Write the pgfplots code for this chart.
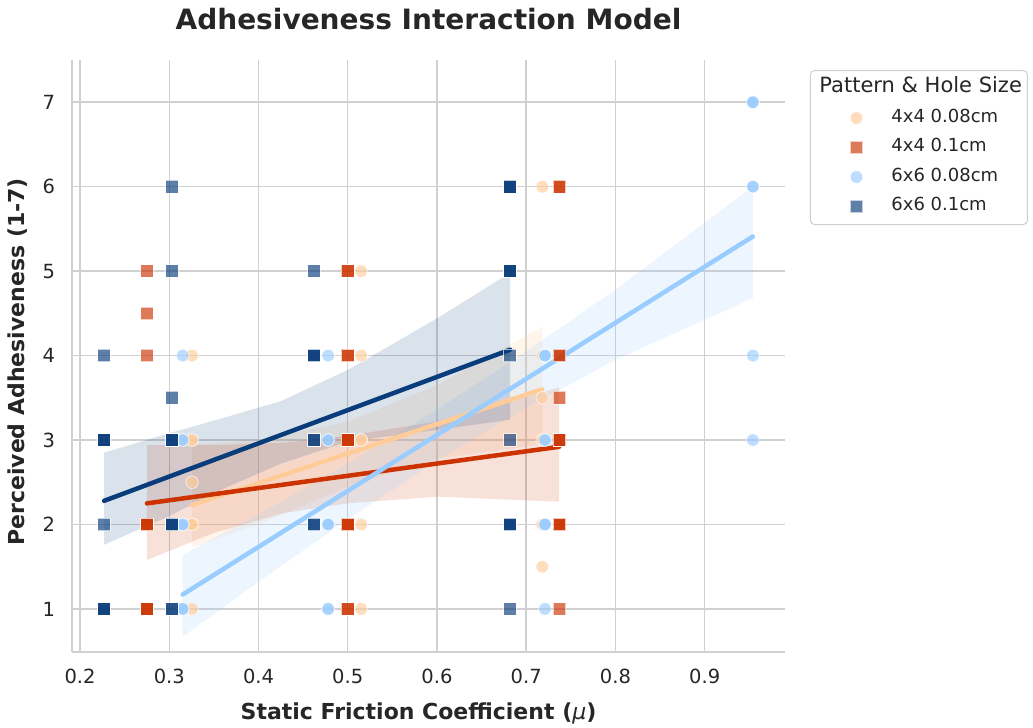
\documentclass[border=0pt]{standalone}
\usepackage{fontspec}
\setmainfont{DejaVu Sans}
\usepackage{pgfplots}
\pgfplotsset{compat=1.18}
\definecolor{cOr}{HTML}{FFCC99}
\definecolor{cRd}{HTML}{CC3300}
\definecolor{cLb}{HTML}{99CCFF}
\definecolor{cDb}{HTML}{083C7A}
\definecolor{gridc}{HTML}{D0D0D0}
\definecolor{txt}{HTML}{262626}
\pgfplotsset{
  mylegimg/.style={legend image code/.code={\path[draw=none,fill=none] (0pt,-6pt) rectangle (34pt,6pt);
     \draw[mark repeat=2,mark phase=2,##1] plot coordinates {(0pt,0pt)(17pt,0pt)(34pt,0pt)};}},
  pts/.style={only marks, mark=#1, mark size=6.3pt},
  ptsopt/.style={mark options={fill=#1, draw=white, line width=0.8pt, fill opacity=0.65, draw opacity=0.65}},
}
\begin{document}
\begin{tikzpicture}[x=1pt,y=1pt]
\path (0,0) rectangle (1033,724);
\begin{axis}[
  at={(72pt,72pt)}, anchor=south west, scale only axis,
  width=713pt, height=592pt,
  xmin=0.191, xmax=0.990, ymin=0.49, ymax=7.5,
  xtick={0.2,0.3,0.4,0.5,0.6,0.7,0.8,0.9}, ytick={1,2,3,4,5,6,7},
  grid=major, major grid style={color=gridc, line width=1.5pt},
  axis x line*=bottom, axis y line*=left,
  axis line style={color=gridc, line width=1.8pt, -},
  major tick length=0pt, tick style={draw=none},
  /pgf/number format/assume math mode=true,
  ticklabel style={font=\fontsize{19.5}{23}\selectfont, text=txt},
  xticklabel style={/pgf/number format/fixed, /pgf/number format/precision=1, /pgf/number format/fixed zerofill, yshift=-13.5pt},
  yticklabel style={xshift=-13.5pt},
  xlabel={Static Friction Coefficient ({\mdseries\itshape μ})},
  ylabel={Perceived Adhesiveness (1-7)},
  label style={font=\bfseries\fontsize{22}{26}\selectfont, text=txt},
  xlabel style={at={(axis description cs:0.486,-0.104)}, anchor=center},
  ylabel style={at={(axis description cs:-0.0757,0.49)}, anchor=center, rotate=0},
  title={Adhesiveness Interaction Model},
  title style={at={(axis description cs:0.5,1.059)}, anchor=center, font=\bfseries\fontsize{28}{32}\selectfont, text=txt},
  legend style={at={(axis description cs:1.035,0.983)}, anchor=north west,
    draw=gridc, line width=1pt, rounded corners=4pt, fill=white,
    font=\fontsize{18}{21}\selectfont, text=txt,
    inner xsep=29pt, inner ysep=10pt, row sep=13.5pt,
    nodes={inner sep=0pt, text height=12pt, text depth=4pt},
    /tikz/every odd column/.append style={column sep=18pt}},
  legend cell align=left,
]
% ---------- scatter points ----------
\addplot[forget plot, pts=*, ptsopt=cOr] coordinates {
 (0.3255,4)(0.3255,3)(0.3255,3)(0.3255,2.5)(0.3255,2)(0.3255,2)(0.3255,1)
 (0.515,5)(0.515,4)(0.515,3)(0.515,3)(0.515,2)(0.515,1)
 (0.718,6)(0.718,4)(0.718,3.5)(0.718,3)(0.718,2)(0.718,1.5)};
\addplot[forget plot, pts=square*, ptsopt=cRd] coordinates {
 (0.275,5)(0.275,4.5)(0.275,4)(0.275,2)(0.275,2)(0.275,2)(0.275,1)(0.275,1)(0.275,1)
 (0.500,5)(0.500,5)(0.500,4)(0.500,4)(0.500,3)(0.500,3)(0.500,3)(0.500,2)(0.500,2)(0.500,2)(0.500,1)(0.500,1)
 (0.737,6)(0.737,6)(0.737,4)(0.737,4)(0.737,3.5)(0.737,3)(0.737,3)(0.737,3)(0.737,2)(0.737,2)(0.737,2)(0.737,1)};
\addplot[forget plot, pts=*, ptsopt=cLb] coordinates {
 (0.315,4)(0.315,3)(0.315,3)(0.315,2)(0.315,2)(0.315,2)(0.315,1)(0.315,1)(0.315,1)
 (0.478,4)(0.478,3)(0.478,3)(0.478,2)(0.478,2)(0.478,2)(0.478,1)(0.478,1)
 (0.721,4)(0.721,4)(0.721,4)(0.721,3)(0.721,3)(0.721,2)(0.721,2)(0.721,2)(0.721,1)
 (0.954,7)(0.954,7)(0.954,7)(0.954,6)(0.954,6)(0.954,4)(0.954,3)};
\addplot[forget plot, pts=square*, ptsopt=cDb] coordinates {
 (0.227,4)(0.227,3)(0.227,3)(0.227,3)(0.227,2)(0.227,1)(0.227,1)(0.227,1)
 (0.303,6)(0.303,5)(0.303,3.5)(0.303,3)(0.303,3)(0.303,3)(0.303,2)(0.303,2)(0.303,2)(0.303,1)(0.303,1)
 (0.462,5)(0.462,4)(0.462,4)(0.462,4)(0.462,3)(0.462,3)(0.462,2)(0.462,2)
 (0.682,6)(0.682,6)(0.682,6)(0.682,5)(0.682,5)(0.682,5)(0.682,4)(0.682,3)(0.682,2)(0.682,2)(0.682,2)(0.682,1)};
% ---------- confidence bands ----------
\addplot[forget plot, draw=none, fill=cOr, fill opacity=0.2] coordinates {
 (0.3255,2.95)(0.40,3.0)(0.50,3.22)(0.60,3.65)(0.718,4.34)
 (0.718,2.95)(0.60,2.78)(0.50,2.45)(0.40,2.0)(0.3255,1.73)};
\addplot[forget plot, draw=none, fill=cRd, fill opacity=0.15] coordinates {
 (0.275,2.94)(0.35,2.94)(0.43,2.97)(0.50,3.05)(0.60,3.22)(0.737,3.62)
 (0.737,2.27)(0.60,2.33)(0.50,2.25)(0.43,2.14)(0.35,1.90)(0.275,1.58)};
\addplot[forget plot, draw=none, fill=cLb, fill opacity=0.18] coordinates {
 (0.315,1.64)(0.40,2.12)(0.50,2.72)(0.60,3.36)(0.70,4.05)(0.80,4.78)(0.954,6.0)
 (0.954,4.68)(0.80,3.95)(0.70,3.38)(0.60,2.76)(0.50,2.06)(0.40,1.32)(0.315,0.67)};
\addplot[forget plot, draw=none, fill=cDb, fill opacity=0.15] coordinates {
 (0.227,2.85)(0.30,3.08)(0.36,3.26)(0.425,3.46)(0.50,3.83)(0.60,4.44)(0.682,4.98)
 (0.682,3.24)(0.60,3.12)(0.50,2.98)(0.425,2.72)(0.36,2.42)(0.30,2.10)(0.227,1.76)};
% ---------- regression lines ----------
\addplot[forget plot, color=cOr, line width=4.5pt, line cap=round] coordinates {(0.3255,2.23)(0.718,3.60)};
\addplot[forget plot, color=cRd, line width=4.5pt, line cap=round] coordinates {(0.275,2.25)(0.737,2.92)};
\addplot[forget plot, color=cLb, line width=4.5pt, line cap=round] coordinates {(0.315,1.17)(0.954,5.41)};
\addplot[forget plot, color=cDb, line width=4.5pt, line cap=round] coordinates {(0.227,2.28)(0.682,4.07)};
% ---------- legend ----------
\addlegendimage{empty legend}
\addlegendentry{\hspace*{-72pt}\makebox[100pt][l]{\fontsize{21}{24}\selectfont Pattern \& Hole Size}}
\addlegendimage{mylegimg, pts=*, ptsopt=cOr}
\addlegendentry{4x4 0.08cm}
\addlegendimage{mylegimg, pts=square*, ptsopt=cRd}
\addlegendentry{4x4 0.1cm}
\addlegendimage{mylegimg, pts=*, ptsopt=cLb}
\addlegendentry{6x6 0.08cm}
\addlegendimage{mylegimg, pts=square*, ptsopt=cDb}
\addlegendentry{6x6 0.1cm}
\end{axis}
\end{tikzpicture}
\end{document}
